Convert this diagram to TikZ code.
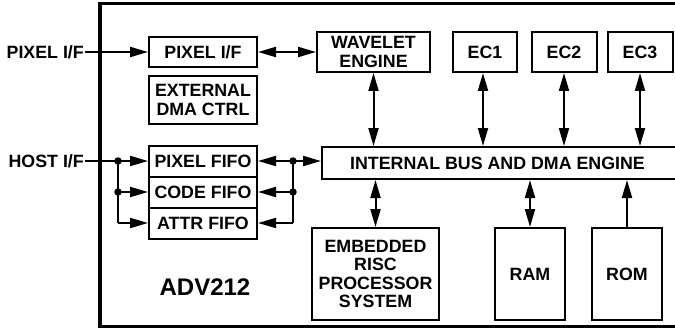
\documentclass[tikz,border=0pt]{standalone}
\usepackage{fontspec}
\setmainfont{Liberation Sans}
\usetikzlibrary{arrows.meta}
\begin{document}
\begin{tikzpicture}[x=1pt, y=-1pt, every node/.style={font=\fontsize{17.8}{18.5}\selectfont\bfseries, align=center, inner sep=1pt}, blk/.style={draw, line width=2pt, rectangle}, arr/.style={line width=2pt, -{Triangle[length=18pt, width=10pt]}}, darr/.style={line width=2pt, {Triangle[length=18pt, width=10pt]}-{Triangle[length=18pt, width=10pt]}}, dot/.style={circle, fill, inner sep=0pt, minimum size=7.5pt}]
		\useasboundingbox (0,0) rectangle (675,329);
		\draw[line width=3.5pt] (100,3.5) rectangle (700,326.5);
		\node[font=\fontsize{24}{26}\selectfont\bfseries] (chip) at (205,287) {ADV212};
		\node[blk, minimum width=108pt, minimum height=30pt] (pif) at (203,52) {PIXEL I/F};
		\node[blk, minimum width=108pt, minimum height=48pt] (extdma) at (203,100) {EXTERNAL\\DMA CTRL};
		\node[blk, minimum width=108pt, minimum height=31pt] (pfifo) at (203,161) {PIXEL FIFO};
		\node[blk, minimum width=108pt, minimum height=31pt] (cfifo) at (203,192) {CODE FIFO};
		\node[blk, minimum width=108pt, minimum height=31pt] (afifo) at (203,223) {ATTR FIFO};
		\node[blk, minimum width=113pt, minimum height=40pt] (wav) at (373.5,52) {WAVELET\\ENGINE};
		\node[blk, minimum width=64pt, minimum height=40pt] (ec1) at (485,52) {EC1};
		\node[blk, minimum width=65pt, minimum height=40pt] (ec2) at (564,52) {EC2};
		\node[blk, minimum width=65pt, minimum height=40pt] (ec3) at (640,52) {EC3};
		\node[blk, minimum width=378pt, minimum height=32pt, label={[xshift=-13.5pt]center:INTERNAL BUS AND DMA ENGINE}] (bus) at (511,163) {};
		\node[blk, minimum width=127pt, minimum height=92pt] (risc) at (375.5,274) {EMBEDDED\\RISC\\PROCESSOR\\SYSTEM};
		\node[blk, minimum width=70pt, minimum height=92pt] (ram) at (530,274) {RAM};
		\node[blk, minimum width=70pt, minimum height=92pt] (rom) at (627,274) {ROM};
		% inputs from outside
		\node[anchor=east] (pxin) at (85,52) {PIXEL I/F};
		\node[anchor=east] (hostin) at (85,161) {HOST I/F};
		\draw[arr] (pxin) -- (pif);
		\draw[darr] (pif) -- (wav);
		% fifo fan in / out
		\node[dot] (hl1) at (118,161) {};
		\node[dot] (hl2) at (118,192) {};
		\coordinate (hl3) at (118,223);
		\node[dot] (hr1) at (293,161) {};
		\node[dot] (hr2) at (293,192) {};
		\coordinate (hr3) at (293,223);
		\draw[arr] (hostin) -- (pfifo);
		\draw[line width=2pt] (hl1.center) -- (hl3);
		\draw[arr] (hl2.center) -- (cfifo);
		\draw[arr] (hl3) -- (afifo);
		\draw[line width=2pt] (hr1.center) -- (hr3);
		\draw[arr] (hr1.center) -- (pfifo);
		\draw[arr] (hr2.center) -- (cfifo);
		\draw[arr] (hr3) -- (afifo);
		\draw[arr] (hr1.center) -- (hr1 -| bus.west);
		% bus connections
		\draw[darr] (wav.south) -- (wav.south |- bus.north);
		\draw[darr] ([xshift=-2pt]ec1.south) -- ([xshift=-2pt]ec1.south |- bus.north);
		\draw[darr] (ec2.south) -- (ec2.south |- bus.north);
		\draw[darr] (ec3.south) -- (ec3.south |- bus.north);
		\draw[darr] (risc.north) -- (risc.north |- bus.south);
		\draw[darr] (ram.north) -- (ram.north |- bus.south);
		\draw[arr] (rom.north) -- (rom.north |- bus.south);
	\end{tikzpicture}
\end{document}
